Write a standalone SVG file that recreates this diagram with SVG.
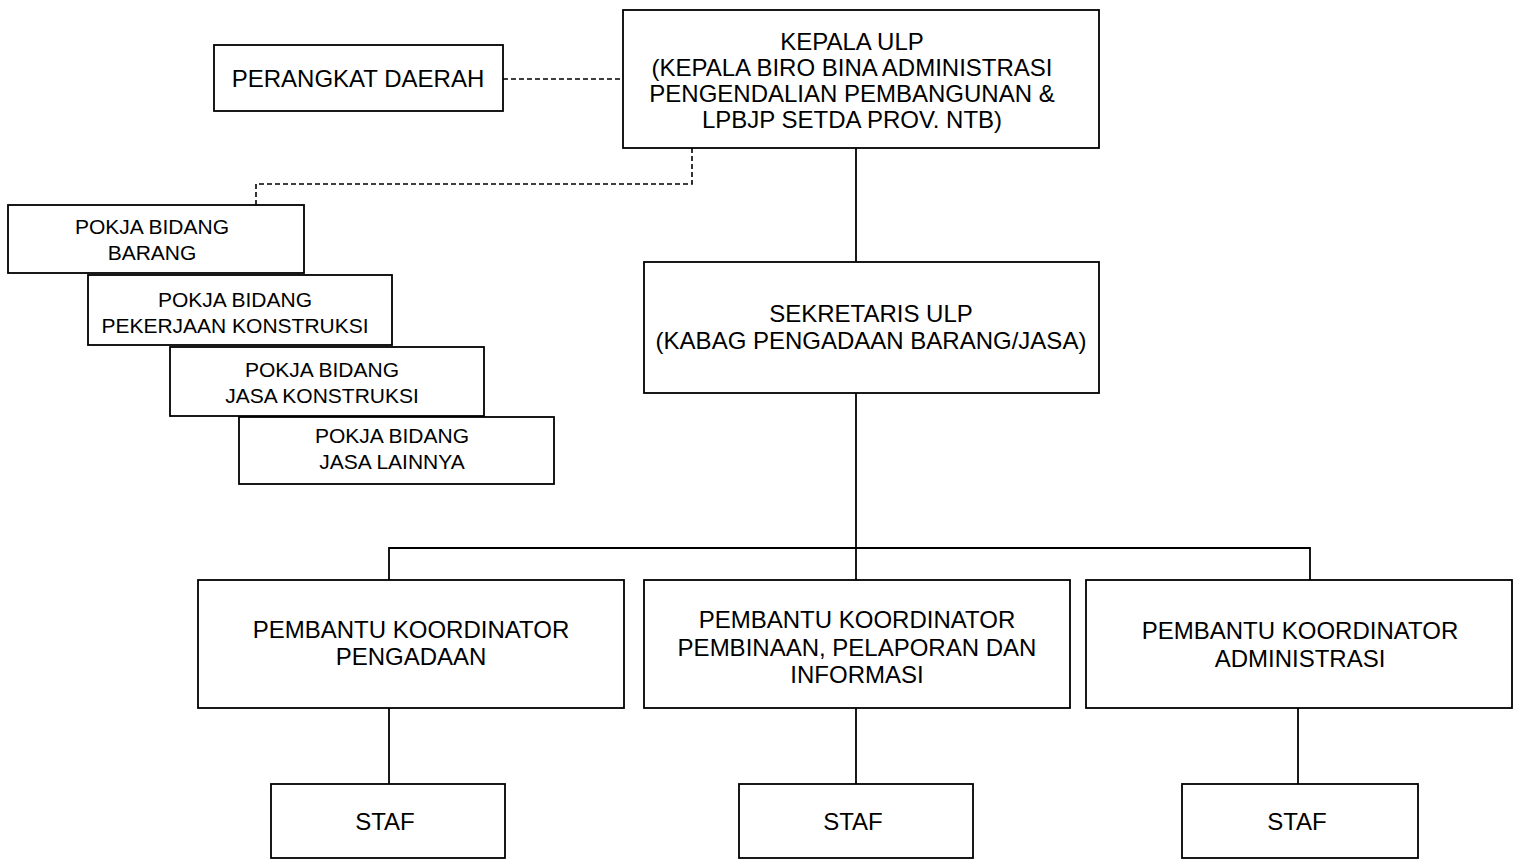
<svg xmlns="http://www.w3.org/2000/svg" width="1522" height="860" viewBox="0 0 1522 860">
<style>
.box{fill:#fff;stroke:#000;stroke-width:1.8}
.t{font-family:"Liberation Sans",Arial,sans-serif;font-size:24px;fill:#000;text-anchor:middle}
.s{font-family:"Liberation Sans",Arial,sans-serif;font-size:21px;fill:#000;text-anchor:middle}
.ln{fill:none;stroke:#000;stroke-width:1.8}
.dash{fill:none;stroke:#000;stroke-width:1.6;stroke-dasharray:5 3}
</style>
<rect width="1522" height="860" fill="#fff"/>
<g id="connectors">
<path class="dash" d="M503 79 H623"/>
<path class="dash" d="M692 148 V184 H256 V205"/>
<path class="ln" d="M856 148 V262"/>
<path class="ln" d="M856 393 V548"/>
<path class="ln" d="M389 580 V548 H1310 V580"/>
<path class="ln" d="M856 548 V580"/>
<path class="ln" d="M389 708 V784"/>
<path class="ln" d="M856 708 V784"/>
<path class="ln" d="M1298 708 V784"/>
</g>
<g id="perangkat-daerah">
<rect class="box" x="214" y="45" width="289" height="66"/>
<text class="t" x="358" y="87">PERANGKAT DAERAH</text>
</g>
<g id="kepala-ulp">
<rect class="box" x="623" y="10" width="476" height="138"/>
<text class="t" x="852" y="50">KEPALA ULP</text>
<text class="t" x="852" y="76">(KEPALA BIRO BINA ADMINISTRASI</text>
<text class="t" x="852" y="102">PENGENDALIAN PEMBANGUNAN &amp;</text>
<text class="t" x="852" y="128">LPBJP SETDA PROV. NTB)</text>
</g>
<g id="pokja-barang">
<rect class="box" x="8" y="205" width="296" height="68"/>
<text class="s" x="152" y="234">POKJA BIDANG</text>
<text class="s" x="152" y="260">BARANG</text>
</g>
<g id="pokja-konstruksi">
<rect class="box" x="88" y="275" width="304" height="70"/>
<text class="s" x="235" y="307">POKJA BIDANG</text>
<text class="s" x="235" y="333">PEKERJAAN KONSTRUKSI</text>
</g>
<g id="pokja-jasa-konstruksi">
<rect class="box" x="170" y="347" width="314" height="69"/>
<text class="s" x="322" y="377">POKJA BIDANG</text>
<text class="s" x="322" y="403">JASA KONSTRUKSI</text>
</g>
<g id="pokja-jasa-lainnya">
<rect class="box" x="239" y="417" width="315" height="67"/>
<text class="s" x="392" y="443">POKJA BIDANG</text>
<text class="s" x="392" y="469">JASA LAINNYA</text>
</g>
<g id="sekretaris-ulp">
<rect class="box" x="644" y="262" width="455" height="131"/>
<text class="t" x="871" y="322">SEKRETARIS ULP</text>
<text class="t" x="871" y="349">(KABAG PENGADAAN BARANG/JASA)</text>
</g>
<g id="pk-pengadaan">
<rect class="box" x="198" y="580" width="426" height="128"/>
<text class="t" x="411" y="638">PEMBANTU KOORDINATOR</text>
<text class="t" x="411" y="665">PENGADAAN</text>
</g>
<g id="pk-pembinaan">
<rect class="box" x="644" y="580" width="426" height="128"/>
<text class="t" x="857" y="628">PEMBANTU KOORDINATOR</text>
<text class="t" x="857" y="656">PEMBINAAN, PELAPORAN DAN</text>
<text class="t" x="857" y="683">INFORMASI</text>
</g>
<g id="pk-administrasi">
<rect class="box" x="1086" y="580" width="426" height="128"/>
<text class="t" x="1300" y="639">PEMBANTU KOORDINATOR</text>
<text class="t" x="1300" y="667">ADMINISTRASI</text>
</g>
<g id="staf-1">
<rect class="box" x="271" y="784" width="234" height="74"/>
<text class="t" x="385" y="830">STAF</text>
</g>
<g id="staf-2">
<rect class="box" x="739" y="784" width="234" height="74"/>
<text class="t" x="853" y="830">STAF</text>
</g>
<g id="staf-3">
<rect class="box" x="1182" y="784" width="236" height="74"/>
<text class="t" x="1297" y="830">STAF</text>
</g>
</svg>
